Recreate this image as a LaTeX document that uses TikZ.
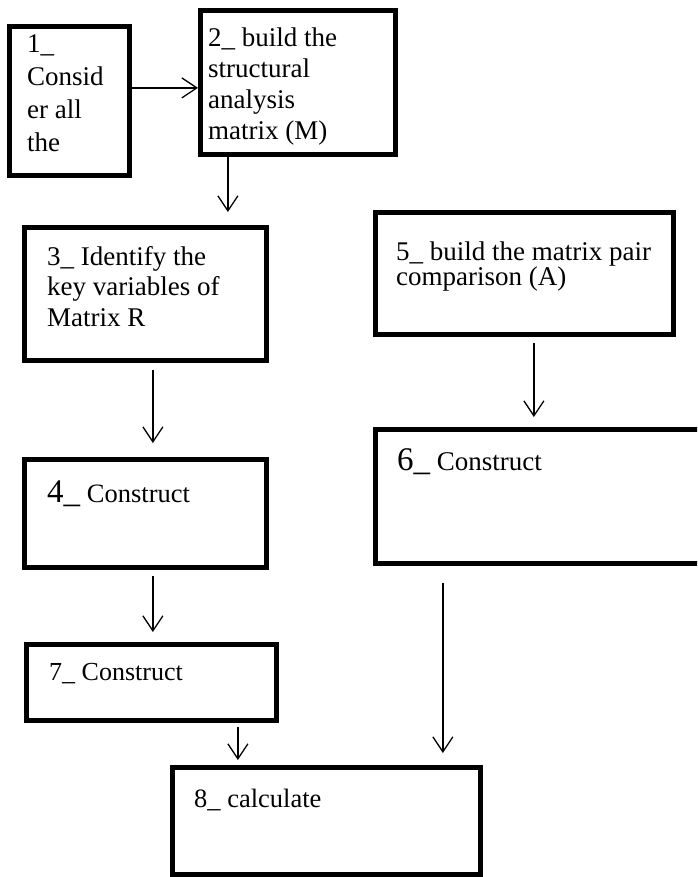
\documentclass[tikz,border=0pt]{standalone}
\usepackage{fontspec}
\setmainfont{Liberation Serif}
\usetikzlibrary{arrows.meta}

\tikzset{
  stepbox/.style={draw, line width=4.8pt, inner sep=0pt, anchor=north west},
  steptext/.style={inner sep=0pt, anchor=base west, align=left,
    font=\fontsize{27}{31}\selectfont},
  arr/.style={line width=1.3pt, -{Straight Barb[length=15pt,width=20pt]}}
}

\begin{document}
\begin{tikzpicture}[x=1pt,y=-1pt]
\useasboundingbox (0,0) rectangle (697,877);
\clip (0,0) rectangle (697,877);

% boxes
\node[stepbox, minimum width=120pt, minimum height=149pt] (b1) at (7,24) {};
\node[stepbox, minimum width=195pt, minimum height=144pt] (b2) at (198,8) {};
\node[stepbox, minimum width=242pt, minimum height=133pt] (b3) at (22,225) {};
\node[stepbox, minimum width=242pt, minimum height=108pt] (b4) at (22,457) {};
\node[stepbox, minimum width=298pt, minimum height=122pt] (b5) at (373,210) {};
\node[stepbox, minimum width=335pt, minimum height=134pt] (b6) at (373,427) {};
\node[stepbox, minimum width=250pt, minimum height=76pt] (b7) at (24,642) {};
\node[stepbox, minimum width=308pt, minimum height=107pt] (b8) at (170,765) {};

% texts (base = last line)
\node[steptext, font=\fontsize{27}{33}\selectfont] (t1) at (27,152) {1\_\\Consid\\er all\\the};
\node[steptext] (t2) at (208,140) {2\_ build the\\structural\\analysis\\matrix (M)};
\node[steptext, font=\fontsize{27}{30.5}\selectfont] (t3) at (47,326) {3\_ Identify the\\key variables of\\Matrix R};
\node[steptext] (t4) at (47,502) {{\fontsize{33}{33}\selectfont 4\_} {\fontsize{26.5}{30}\selectfont Construct}};
\node[steptext, font=\fontsize{27}{25}\selectfont] (t5) at (396,285) {5\_ build the matrix pair\\comparison (A)};
\node[steptext] (t6) at (397,470) {{\fontsize{33}{33}\selectfont 6\_} {\fontsize{27}{30}\selectfont Construct}};
\node[steptext, font=\fontsize{26}{30}\selectfont] (t7) at (49,680) {7\_ Construct};
\node[steptext, font=\fontsize{26.5}{30}\selectfont] (t8) at (194,807) {8\_ calculate};

% arrows
\draw[arr] ([yshift=13pt]b1.east) -- ([yshift=13pt]b1.east -| b2.west);
\draw[arr, shorten >=13pt] ([xshift=-70pt]b2.south) -- ([xshift=-70pt]b2.south |- b3.north);
\draw[arr, shorten <=7pt, shorten >=14pt] ([xshift=7.5pt]b3.south) -- ([xshift=7.5pt]b3.south |- b4.north);
\draw[arr, shorten <=6pt, shorten >=10pt] ([xshift=7.5pt]b4.south) -- ([xshift=7.5pt]b4.south |- b7.north);
\draw[arr, shorten <=6pt, shorten >=10pt] ([xshift=9.5pt]b5.south) -- ([xshift=9.5pt]b5.south |- b6.north);
\draw[arr, shorten <=4pt, shorten >=5pt] ([xshift=86.5pt]b7.south) -- ([xshift=86.5pt]b7.south |- b8.north);
\draw[arr, shorten <=17pt, shorten >=12pt] ([xshift=-100pt]b6.south) -- ([xshift=-100pt]b6.south |- b8.north);

\end{tikzpicture}
\end{document}
